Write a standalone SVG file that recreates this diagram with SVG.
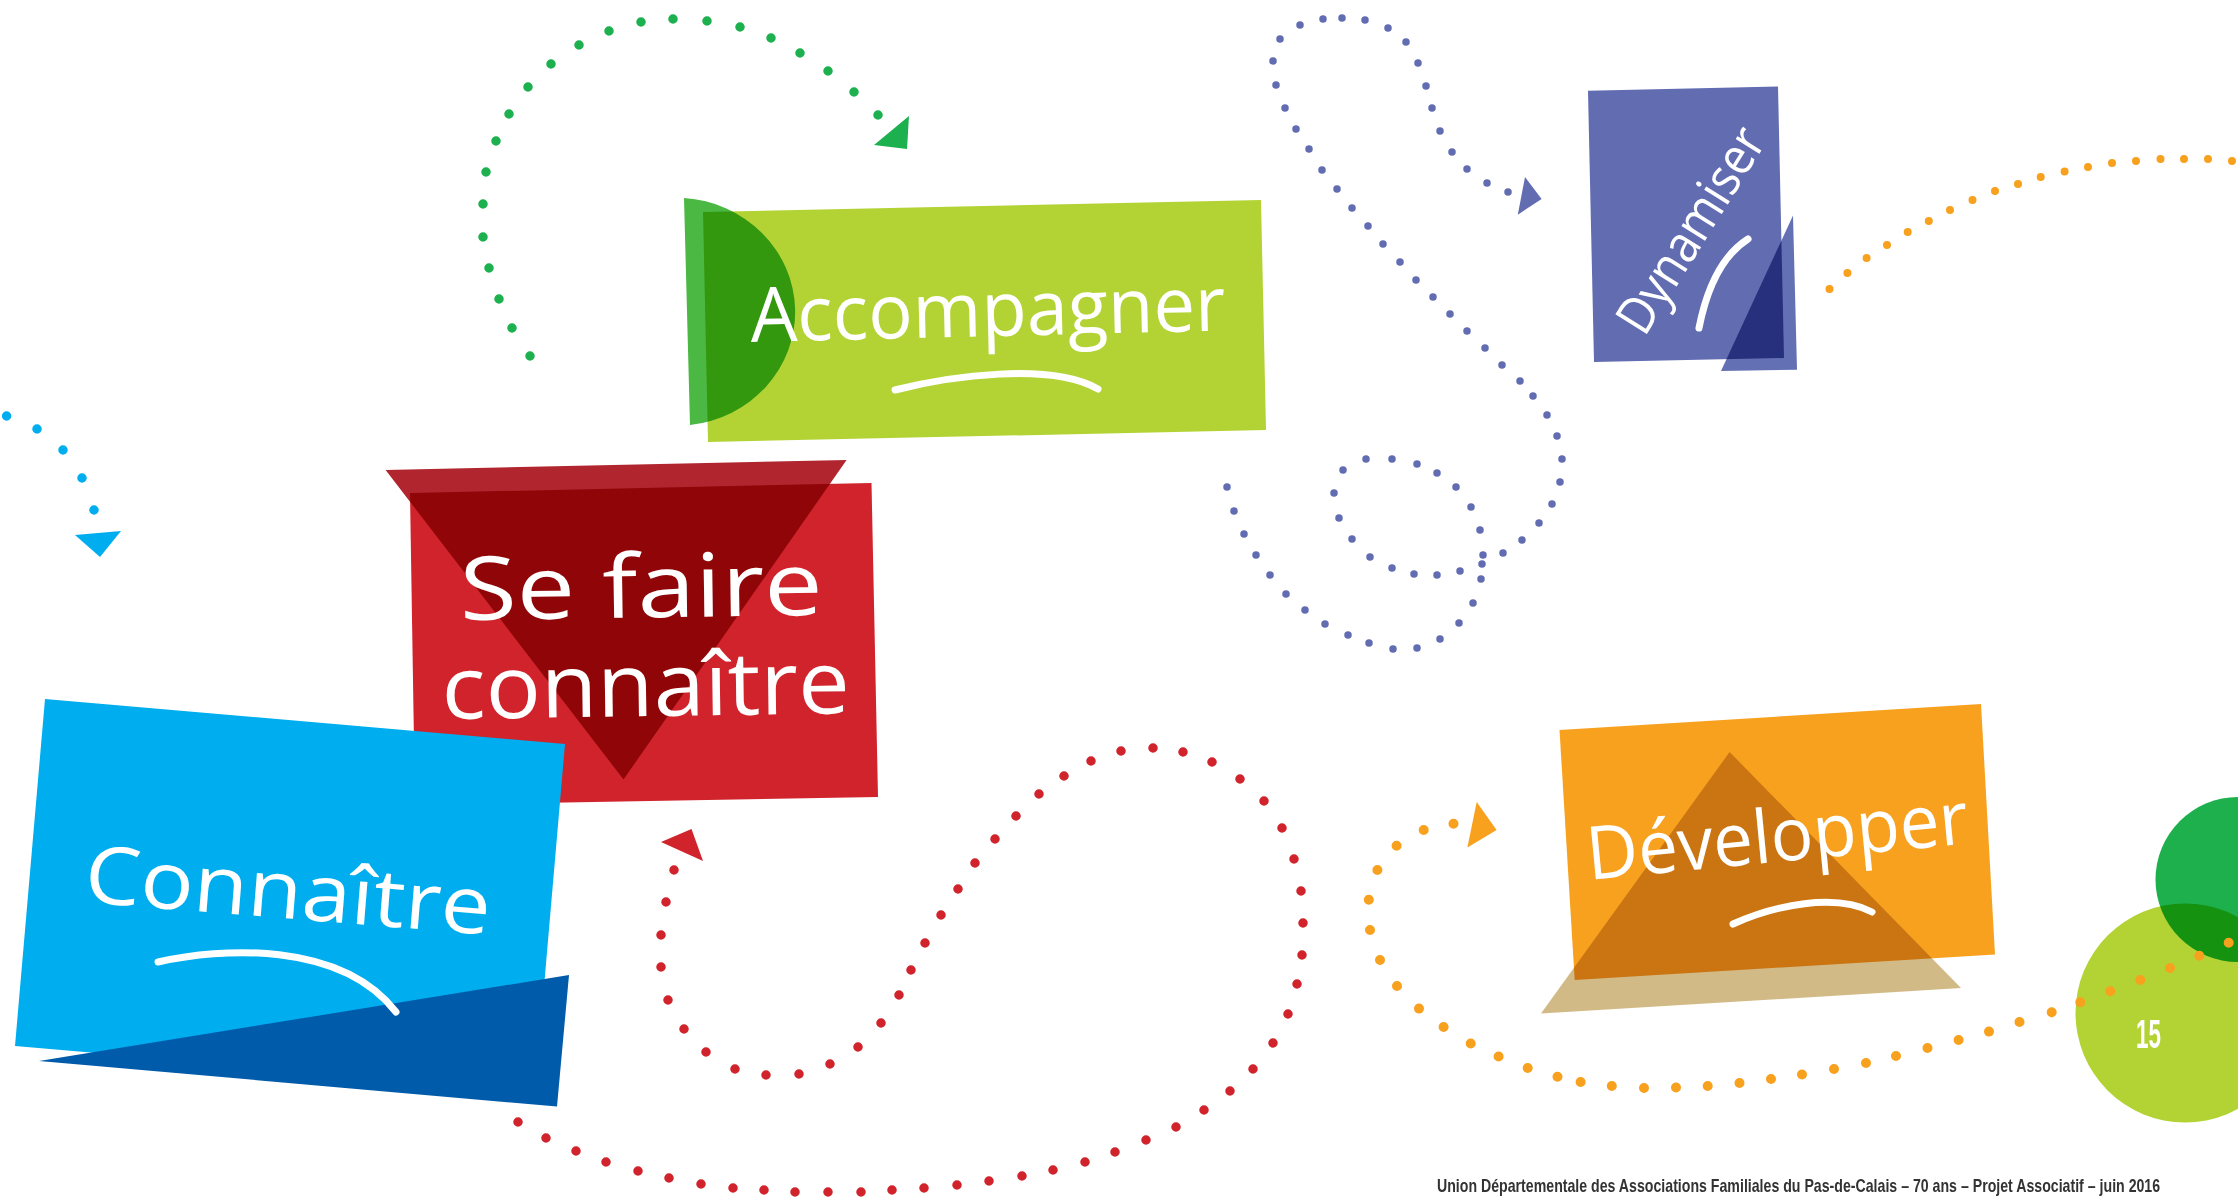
<svg xmlns="http://www.w3.org/2000/svg" width="2238" height="1201" viewBox="0 0 2238 1201">
<style>
.hand{font-family:"Open Sans","Noto Sans",sans-serif;fill:#fff;font-weight:400}
.mul{mix-blend-mode:multiply}
.ul{fill:none;stroke:#fff;stroke-width:7;stroke-linecap:round}
.dots{fill:none;stroke-linecap:round}
.foot{font-family:"Liberation Sans",Arial,sans-serif;font-weight:700;fill:#333;font-size:18px}
</style>
<rect x="0" y="0" width="2238" height="1201" fill="#fff"/>

<g id="node-accompagner">
  <polygon points="703,212 1261,200 1266,430 708,442" fill="#b3d335"/>
  <path class="mul" d="M684,198 A119,114 1.5 0 1 690,425 Z" fill="#4ab843"/>
  <text class="hand" transform="translate(751,342) rotate(-1.4)" font-size="76" textLength="475" lengthAdjust="spacingAndGlyphs">Accompagner</text>
  <path class="ul" d="M895,390 C950,376 1050,362 1098,389"/>
</g>

<g id="node-se-faire-connaitre">
  <polygon points="410,493 871.5,483 878,797 415,805" fill="#d0232b"/>
  <polygon class="mul" points="385.6,470 846.6,460 623.5,779.5" fill="#b1262e"/>
  <text class="hand" transform="translate(460,620) rotate(-0.8)" font-size="88" textLength="363" lengthAdjust="spacingAndGlyphs">Se faire</text>
  <text class="hand" transform="translate(442,719) rotate(-0.8)" font-size="88" textLength="408" lengthAdjust="spacingAndGlyphs">connaître</text>
</g>

<g id="node-connaitre">
  <polygon points="45,699 565,744 535,1091 15,1046" fill="#00aeef"/>
  <polygon points="39,1061 569,975 557,1106.6" fill="#005baa"/>
  <text class="hand" transform="translate(83,902) rotate(4.6)" font-size="80" textLength="407" lengthAdjust="spacingAndGlyphs">Connaître</text>
  <path class="ul" d="M158,962 C220,948 340,940 396,1012"/>
</g>

<g id="node-dynamiser">
  <polygon points="1588,90.7 1778,86.5 1784,358 1594,362" fill="#616cb1"/>
  <polygon class="mul" points="1793,215.5 1797,369.7 1721,371" fill="#6470b4"/>
  <text class="hand" transform="translate(1694,232) rotate(-58)" font-size="52" text-anchor="middle" y="14" textLength="232" lengthAdjust="spacingAndGlyphs">Dynamiser</text>
  <path class="ul" d="M1699,328 Q1712,262 1748,239"/>
</g>

<g id="node-developper">
  <polygon points="1559.5,730 1981,704 1995,954.5 1574.7,980" fill="#f7a11f"/>
  <polygon class="mul" points="1729.6,752 1541,1013.6 1961,988" fill="#d1ba86"/>
  <text class="hand" transform="translate(1589,880) rotate(-5.5)" font-size="74" textLength="383" lengthAdjust="spacingAndGlyphs">Développer</text>
  <path class="ul" d="M1733,924 C1775,905 1835,893 1872,912"/>
</g>

<g id="page-badge">
  <circle cx="2185" cy="1013" r="109.5" fill="#b3d335"/>
  <circle class="mul" cx="2238" cy="879.5" r="82.5" fill="#1db04d"/>
  <text x="2136" y="1048" font-family="Liberation Sans, Arial, sans-serif" font-weight="700" font-size="41" fill="#fff" textLength="25" lengthAdjust="spacingAndGlyphs">15</text>
</g>

<g id="connectors">
  <path class="dots" stroke="#1cb04f" stroke-width="9.5" d="M530 356h0M512 328h0M499 299h0M489 268h0M483 237h0M483 204h0M486 172h0M496 141h0M509 114h0M528 87h0M551 64h0M579 45h0M609 31h0M641 22h0M673 19h0M707 21h0M740 27h0M771 38h0M800 53h0M828 71h0M854 92h0M878 115h0"/>
  <polygon points="909,116 907,149 874,145" fill="#1cb04f"/>

  <path class="dots" stroke="#00aeef" stroke-width="9.5" d="M6.6 416h0M37 429h0M63 450h0M82 478h0M94 510h0"/>
  <polygon points="75,535 121,531 100,557" fill="#00aeef"/>

  <path class="dots" stroke="#616cb1" stroke-width="7.5" d="M1227 487h0M1234 511h0M1244 534h0M1256 555h0M1270 575h0M1286 594h0M1305 610h0M1325 624h0M1348 635h0M1369 643h0M1393 649h0M1417 648h0M1440 639h0M1459 623h0M1473 603h0M1481 579h0M1483 555h0M1480 530h0M1471 507h0M1456 487h0M1437 473h0M1417 464h0M1392 459h0M1366 459h0M1343 470h0M1334 493h0M1339 518h0M1352 539h0M1370 557h0M1392 568h0M1414 574h0M1437 575h0M1460 571h0M1482 564h0M1503 553h0M1522 540h0M1539 523h0M1552 504h0M1560 482h0M1562 459h0M1557 436h0M1547 415h0M1533 396h0M1520 381h0M1502 365h0M1485 348h0M1467 331h0M1450 314h0M1433 297h0M1416 280h0M1400 262h0M1383 244h0M1368 226h0M1352 208h0M1337 189h0M1322 170h0M1309 149h0M1296 129h0M1285 108h0M1276 85h0M1273 61h0M1280 39h0M1300 25h0M1323 19h0M1342 18h0M1365 20h0M1388 28h0M1406 42h0M1418 63h0M1426 86h0M1432 108h0M1440 131h0M1452 152h0M1467 169h0M1487 183h0M1508 192h0"/>
  <polygon points="1525,177 1541.6,199 1517.8,214.7" fill="#616cb1"/>

  <path class="dots" stroke="#d0232b" stroke-width="9.5" d="M518 1122h0M546 1138h0M576 1151h0M606 1162h0M638 1171h0M669 1178h0M701 1184h0M733 1188h0M764 1190h0M795 1192h0M828 1192h0M861 1192h0M892 1190h0M924 1188h0M957 1185h0M989 1181h0M1022 1176h0M1053 1170h0M1085 1162h0M1115 1152h0M1146 1140h0M1176 1127h0M1204 1110h0M1230 1091h0M1253 1069h0M1273 1043h0M1288 1014h0M1297 984h0M1302 955h0M1303 923h0M1301 891h0M1294 859h0M1282 828h0M1264 801h0M1240 779h0M1212 762h0M1183 752h0M1153 748h0M1121 751h0M1091 761h0M1064 776h0M1039 794h0M1016 816h0M995 839h0M975 863h0M958 889h0M941 915h0M925 943h0M911 970h0M899 995h0M881 1023h0M858 1047h0M830 1064h0M799 1074h0M766 1075h0M735 1069h0M706 1052h0M684 1029h0M668 1000h0M661 967h0M661 935h0M666 902h0M674 870h0"/>
  <polygon points="691.5,829 661,842 703,861" fill="#d0232b"/>

  <path class="dots" stroke="#f7a11f" stroke-width="8" d="M1829.5 289h0M1847.4 273h0M1866.6 258h0M1887 245h0M1907.7 232h0M1928.8 221h0M1950 210h0M1972.5 200h0M1995 191h0M2018 184h0M2040.7 177h0M2064.6 171.5h0M2088 167h0M2112 163h0M2136 161h0M2160.5 159h0M2184 159h0M2208 159h0M2232 161h0"/>

  <path class="dots" stroke="#f7a11f" stroke-width="10" d="M2228.7 942.7h0M2199.3 955.7h0M2170 968h0M2140.3 980h0M2110.3 991.3h0M2080.3 1002.3h0M2051.7 1012.3h0M2019.5 1022h0M1989 1031.6h0M1958.6 1040h0M1927.5 1048h0M1896 1056h0M1866 1063h0M1834 1069h0M1802 1074.5h0M1771 1079h0M1739.5 1083h0M1707.7 1086h0M1676 1087.5h0M1644 1088h0M1611.8 1086h0M1580.6 1082h0M1557.5 1076.8h0M1527.7 1068h0M1498.6 1056.5h0M1470.7 1043.5h0M1443.6 1027h0M1419 1008.6h0M1397 986h0M1380 960h0M1370 930h0M1368.8 899.7h0M1377.4 870h0M1396.6 845.7h0M1423.7 830h0M1453.5 823.8h0"/>
  <polygon points="1476.7,802 1496.6,830 1467.4,847.6" fill="#f7a11f"/>
</g>

<text class="foot" transform="translate(1437,1192) scale(0.69,1)" x="0" y="0" textLength="1048" lengthAdjust="spacingAndGlyphs">Union Départementale des Associations Familiales du Pas-de-Calais – 70 ans – Projet Associatif – juin 2016</text>
</svg>
